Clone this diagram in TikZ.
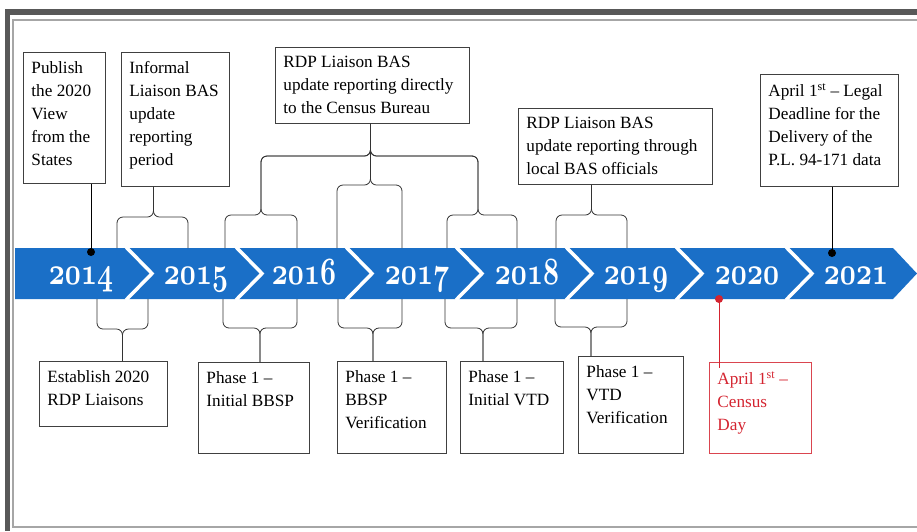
\documentclass[tikz,border=0pt]{standalone}
\usepackage{fontspec}
\setmainfont{Liberation Serif}
\definecolor{bandblue}{RGB}{26,111,199}
\definecolor{framegray}{RGB}{88,88,88}
\definecolor{censred}{RGB}{212,36,48}
\newcommand{\yr}[1]{\scalebox{1.12}[1.55]{\fontsize{24.88}{25}\usefont{OML}{cmm}{b}{it}#1}}
\newcommand{\cellbox}[3]{\parbox[t][#2][t]{#1}{\raggedright #3}}

\begin{document}
\begin{tikzpicture}[x=1pt, y=-1pt,
	event/.style={draw=black!75, line width=0.9pt, anchor=north west, inner xsep=8pt, inner ysep=9pt, font=\fontsize{17.2}{23}\selectfont},
	brc/.style={draw=black!80, line width=0.8pt, rounded corners=6pt},
	year/.style={text=white, anchor=base, inner sep=0pt}]
	\useasboundingbox (0,0) rectangle (917,531);
	% frame
	\fill[framegray] (5,9) rectangle (917,15);
	\fill[framegray] (5,9) rectangle (10,531);
	\draw[black!35, line width=1.2pt] (917,20) -- (13,20) -- (13,527) -- (917,527);

	% timeline band
	\fill[bandblue] (15,248) -- (893,248) -- (917,273.5) -- (893,299) -- (15,299) -- cycle;
	\foreach \x in {126,236,346,456,566,676,786}
		\draw[white, line width=3.5pt] (\x,247) -- (\x+26,273.5) -- (\x,300);
	\foreach \x/\y in {81/2014, 196/2015, 304/2016, 417/2017, 527/2018, 636/2019, 747/2020, 856/2021}
		\node[year] (y\y) at (\x,284) {\yr{\y}};

	% boxes above
	\node[event] (pub) at (23,52) {\cellbox{66pt}{113pt}{Publish\\the 2020\\View\\from the\\States}};
	\node[event] (inf) at (121,52) {\cellbox{92pt}{116pt}{Informal\\Liaison BAS\\update\\reporting\\period}};
	\node[event] (rdpa) at (275,47) {\cellbox{178pt}{58pt}{RDP Liaison BAS\\update reporting directly\\to the Census Bureau}};
	\node[event] (rdpb) at (518,108) {\cellbox{178pt}{58pt}{RDP Liaison BAS\\update reporting through\\local BAS officials}};
	\node[event] (legal) at (760,74) {\cellbox{122pt}{94pt}{April 1\textsuperscript{st} -- Legal\\Deadline for the\\Delivery of the\\P.L. 94-171 data}};

	% boxes below
	\node[event] (est) at (39,361) {\cellbox{112pt}{47pt}{Establish 2020\\RDP Liaisons}};
	\node[event] (bbsp) at (198,362) {\cellbox{95pt}{73pt}{Phase 1 --\\Initial BBSP}};
	\node[event] (bver) at (337,361) {\cellbox{93pt}{74pt}{Phase 1 --\\BBSP\\Verification}};
	\node[event] (vtd) at (460,361) {\cellbox{87pt}{74pt}{Phase 1 --\\Initial VTD}};
	\node[event] (vver) at (578,356) {\cellbox{89pt}{79pt}{Phase 1 --\\VTD\\Verification}};
	\node[event, draw=censred!85, text=censred] (cen) at (709,362) {\cellbox{86pt}{73pt}{April 1\textsuperscript{st} --\\Census\\Day}};

	% pins
	\coordinate (d14) at (91,252);
	\coordinate (d20) at (719,299);
	\coordinate (d21) at (832,253);
	\draw[line width=1pt] (pub.south -| d14) -- (d14);
	\draw[line width=1pt] (legal.south -| d21) -- (d21);
	\draw[censred, line width=1pt] (d20) -- (d20 |- cen.north) -- ++(0,6);
	\fill (d14) circle (4pt);
	\fill (d21) circle (4pt);
	\fill[censred] (d20) circle (4pt);

	% braces above
	\draw[brc] ([xshift=-22pt]inf.south) |- (117,217) -- (117,248);
	\draw[brc] ([xshift=-22pt]inf.south) |- (188,217) -- (188,248);
	\draw[brc] ([xshift=-2pt]rdpa.south) |- (261,156) |- (225,215) -- (225,248);
	\draw[brc] ([xshift=-2pt]rdpa.south) |- (261,156) |- (297,215) -- (297,248);
	\draw[brc] ([xshift=-2pt]rdpa.south) |- (337,185) -- (337,248);
	\draw[brc] ([xshift=-2pt]rdpa.south) |- (402,185) -- (402,248);
	\draw[brc] ([xshift=-2pt]rdpa.south) |- (478,156) |- (447,215) -- (447,248);
	\draw[brc] ([xshift=-2pt]rdpa.south) |- (478,156) |- (517,215) -- (517,248);
	\draw[brc] ([xshift=-24pt]rdpb.south) |- (556,215) -- (556,248);
	\draw[brc] ([xshift=-24pt]rdpb.south) |- (627,215) -- (627,248);

	% braces below
	\draw[brc] ([xshift=19pt]est.north) |- (97,329) -- (97,299);
	\draw[brc] ([xshift=19pt]est.north) |- (148,329) -- (148,299);
	\draw[brc] ([xshift=6pt]bbsp.north) |- (223,328) -- (223,299);
	\draw[brc] ([xshift=6pt]bbsp.north) |- (297,328) -- (297,299);
	\draw[brc] ([xshift=-19pt]bver.north) |- (338,328) -- (338,299);
	\draw[brc] ([xshift=-19pt]bver.north) |- (402,328) -- (402,299);
	\draw[brc] ([xshift=-29pt]vtd.north) |- (445,328) -- (445,299);
	\draw[brc] ([xshift=-29pt]vtd.north) |- (517,328) -- (517,299);
	\draw[brc] ([xshift=-40pt]vver.north) |- (555,327) -- (555,299);
	\draw[brc] ([xshift=-40pt]vver.north) |- (627,327) -- (627,299);
\end{tikzpicture}
\end{document}
